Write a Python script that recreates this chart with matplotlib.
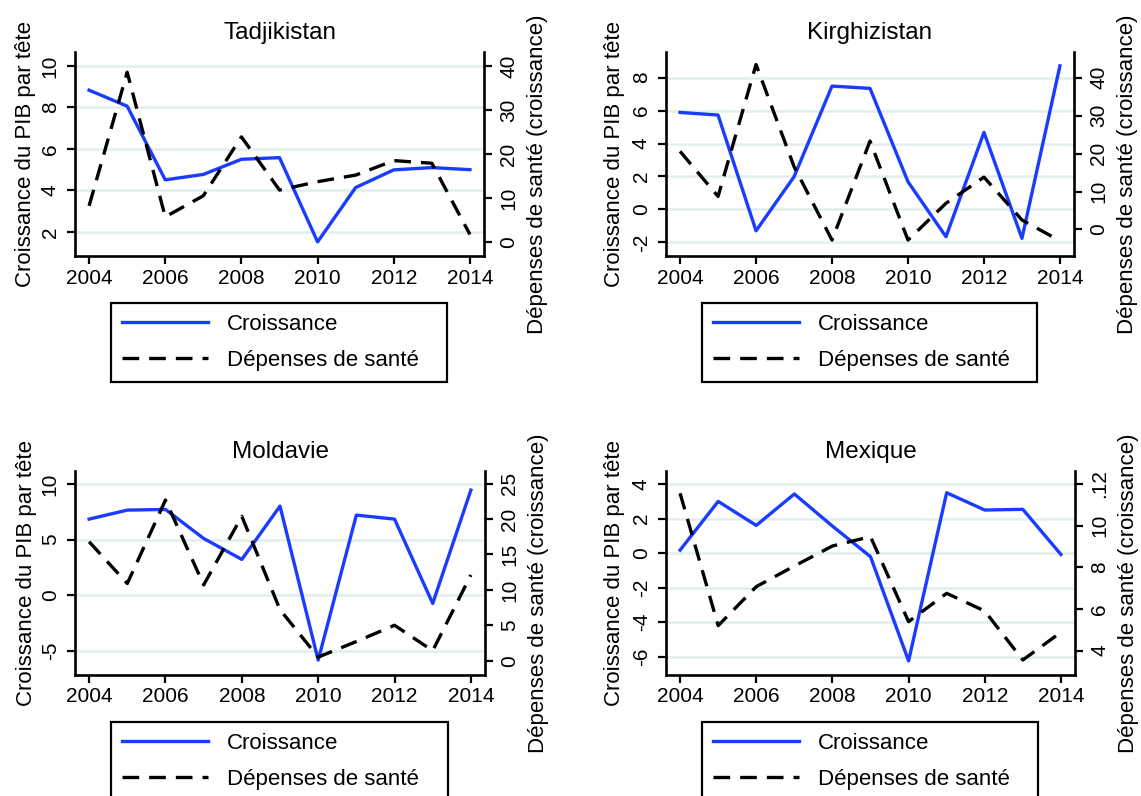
import matplotlib
matplotlib.use("Agg")
import matplotlib.pyplot as plt

plt.rcParams['font.family'] = ['Liberation Sans', 'DejaVu Sans']
plt.rcParams['axes.unicode_minus'] = False

annees = list(range(2004, 2015))

# croissance du PIB par tête (axe de gauche)
croiss_tadj = [8.83, 8.06, 4.51, 4.77, 5.50, 5.58, 1.52, 4.14, 4.99, 5.10, 5.00]
croiss_kirg = [5.89, 5.73, -1.30, 1.98, 7.49, 7.35, 1.68, -1.66, 4.68, -1.76, 8.72]
croiss_mold = [6.84, 7.65, 7.71, 5.10, 3.21, 8.01, -5.85, 7.20, 6.84, -0.75, 9.45]
croiss_mex = [0.17, 2.99, 1.60, 3.42, 1.56, -0.21, -6.24, 3.49, 2.49, 2.53, -0.08]

# dépenses de santé, croissance (axe de droite)
dep_tadj = [8.2, 38.6, 5.7, 10.5, 23.9, 11.8, 13.7, 15.2, 18.5, 17.9, 1.7]
dep_kirg = [20.6, 8.7, 43.5, 16.6, -2.8, 23.3, -2.8, 6.9, 13.8, 2.5, -3.0]
dep_mold = [16.8, 10.9, 22.7, 10.7, 20.4, 7.2, 0.5, 2.7, 5.0, 1.4, 12.1]
dep_mex = [11.55, 5.20, 7.07, 8.06, 9.02, 9.47, 5.39, 6.75, 5.90, 3.55, 4.88]

pays = ["Tadjikistan", "Kirghizistan", "Moldavie", "Mexique"]
ticks_gauche = [[2, 4, 6, 8, 10], [-2, 0, 2, 4, 6, 8], [-5, 0, 5, 10], [-6, -4, -2, 0, 2, 4]]
ticks_droite = [[0, 10, 20, 30, 40], [0, 10, 20, 30, 40], [0, 5, 10, 15, 20, 25], [4, 6, 8, 10, 12]]
etiq_droite = [None, None, None, ["4", "6", "8", "10", ".12"]]

BLEU = '#1a3cff'
GRILLE = '#e4eded'
W, H = 1141, 796


def boite(g, h, d, b):
    return [g / W, 1 - b / H, (d - g) / W, (b - h) / H]


fig = plt.figure(figsize=(W / 100, H / 100), dpi=100)
fig.patch.set_facecolor('white')

mise_en_page = [
    dict(rect=boite(75, 52, 484, 256), lim_g=(0.84, 10.67), lim_d=(-3.2, 43.2), xl=-0.12),
    dict(rect=boite(666, 52, 1074, 256), lim_g=(-2.83, 9.56), lim_d=(-7.0, 46.8), xl=-0.127),
    dict(rect=boite(75, 471, 485, 675), lim_g=(-7.19, 11.17), lim_d=(-2.03, 26.8), xl=-0.118),
    dict(rect=boite(666, 471, 1075, 675), lim_g=(-7.06, 4.75), lim_d=(2.83, 12.62), xl=-0.127),
]
croissances = [croiss_tadj, croiss_kirg, croiss_mold, croiss_mex]
depenses = [dep_tadj, dep_kirg, dep_mold, dep_mex]

for i, mp in enumerate(mise_en_page):
    ax = fig.add_axes(mp['rect'])
    ax2 = ax.twinx()

    l1, = ax.plot(annees, croissances[i], color=BLEU, lw=2.4)
    l2, = ax2.plot(annees, depenses[i], color='black', lw=2.4, ls=(0, (5.0, 3.0)))

    ax.set_xlim(2003.63, 2014.37)
    ax.set_xticks(range(2004, 2015, 2))
    ax.set_ylim(*mp['lim_g'])
    ax.set_yticks(ticks_gauche[i])
    ax2.set_ylim(*mp['lim_d'])
    ax2.set_yticks(ticks_droite[i])
    if etiq_droite[i]:
        ax2.set_yticklabels(etiq_droite[i])

    ax.grid(axis='y', color=GRILLE, lw=1.8)
    ax.set_axisbelow(True)

    ax.spines['top'].set_visible(False)
    ax.spines['right'].set_visible(False)
    ax2.spines['top'].set_visible(False)
    ax2.spines['left'].set_visible(False)
    ax2.spines['bottom'].set_visible(False)
    for s in ['left', 'bottom']:
        ax.spines[s].set_linewidth(1.9)
    ax2.spines['right'].set_linewidth(1.9)

    ax.tick_params(axis='x', direction='out', length=6, width=1.6, labelsize=15, pad=3)
    ax.tick_params(axis='y', direction='out', length=6, width=1.6, labelsize=15, pad=5,
                   labelrotation=90)
    ax2.tick_params(axis='y', direction='out', length=6, width=1.6, labelsize=15, pad=5,
                    labelrotation=90)
    plt.setp(ax.get_yticklabels(), va='center')
    plt.setp(ax2.get_yticklabels(), va='center')

    ax.text(0.5, 1 + 19 / 204, pays[i], transform=ax.transAxes, ha='center', va='center',
            fontsize=17.5)

    ax.set_ylabel('Croissance du PIB par tête', fontsize=16)
    ax.yaxis.set_label_coords(mp['xl'], 0.5)
    ax.yaxis.label.set_va('center')
    ax2.set_ylabel('Dépenses de santé (croissance)', fontsize=16)
    ax2.yaxis.set_label_coords(1.13, 0.402)
    ax2.yaxis.label.set_va('center')

    leg = ax2.legend([l1, l2], ['Croissance', 'Dépenses de santé'], loc='upper left',
                     bbox_to_anchor=(0.088, -0.33, 0.8215, 0.1), mode='expand',
                     fontsize=16, frameon=True, fancybox=False, edgecolor='black',
                     framealpha=1, borderpad=0.5, handlelength=3.87, handletextpad=0.86,
                     labelspacing=0.68, borderaxespad=0)
    leg.get_frame().set_linewidth(1.6)

fig.savefig('out.png', dpi=100, facecolor='white')
